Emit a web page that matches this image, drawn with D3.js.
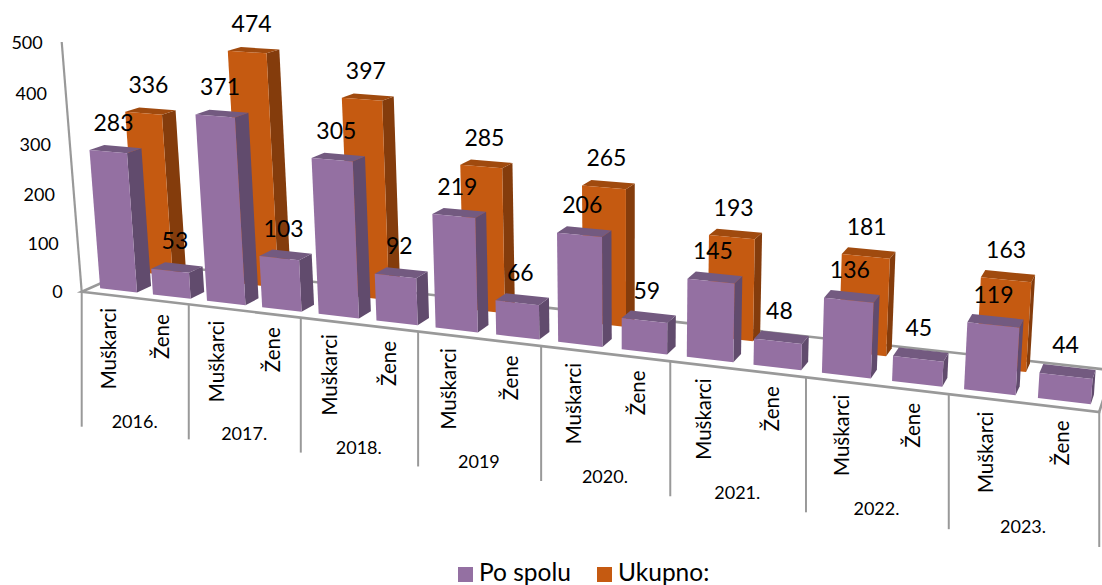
<!DOCTYPE html>
<html><head><meta charset="utf-8">
<script src="https://cdn.jsdelivr.net/npm/d3@7/dist/d3.min.js"></script>
<style>html,body{margin:0;padding:0;background:#fff}svg{display:block}text{font-family:Lato,sans-serif;fill:#000}</style>
</head><body><svg id="c" width="1102" height="585"></svg>
<script>
const years=["2016.","2017.","2018.","2019","2020.","2021.","2022.","2023."];
const groups=["Muškarci","Žene"];
const muskarci=[283,371,305,219,206,145,136,119];
const zene=[53,103,92,66,59,48,45,44];
const ukupno=[336,474,397,285,265,193,181,163];
const valueTicks=[0,100,200,300,400,500];
const legendNames=["Po spolu","Ukupno:"];
const purple={front:"#9470a2",side:"#614b6d",top:"#735a80"};
const orange={front:"#c55a11",side:"#843c0c",top:"#a04a0e"};

// projective camera of the 3-D chart: t along categories, z depth, v value
const H={c:-0.0221,e:0.055,f:-7.03e-5,a:102.9,g:72,h:-0.0443,i:5.93,j:-14,k:-0.5024,x0:81.7,y0:291.7};
function P(t,z,v){const w=1+H.c*t+H.e*z+H.f*v;
  return [(H.x0+H.a*t+H.g*z+H.h*v)/w,(H.y0+H.i*t+H.j*z+H.k*v)/w];}
const tScale=d3.scalePoint().domain(years).range([0,7]);
const groupScale=d3.scaleBand().domain(groups).range([0,1]);
const BW=0.35, SHIFT=0.006;
const zRange={front:[0.15,0.37],back:[0.72,0.94]};
const svg=d3.select("#c");
const line=d3.line();
const poly=pts=>line(pts)+"Z";
const grey="#999";

// floor
const floorPts=[P(0,0,0),P(8,0,0),P(8,1,0),P(0,1,0)];
svg.append("path").attr("d",poly(floorPts)).attr("fill","#fff").attr("stroke",grey).attr("stroke-width",2.6);
svg.append("path").attr("d",line([P(0,0,0),P(0,0,500)])).attr("stroke",grey).attr("stroke-width",2.2).attr("fill","none");

function bar(g,tc,zr,val,col){
  const t0=tc-BW/2,t1=tc+BW/2,[z0,z1]=zr;
  g.append("path").attr("d",poly([P(t1,z0,0),P(t1,z1,0),P(t1,z1,val),P(t1,z0,val)])).attr("fill",col.side);
  g.append("path").attr("d",poly([P(t0,z0,val),P(t1,z0,val),P(t1,z1,val),P(t0,z1,val)])).attr("fill",col.top);
  g.append("path").attr("d",poly([P(t0,z0,0),P(t1,z0,0),P(t1,z0,val),P(t0,z0,val)])).attr("fill",col.front);
}
const tCentre=(y,g)=>tScale(y)+groupScale(g)+groupScale.bandwidth()/2;
const gBack=svg.append("g"), gFront=svg.append("g");
years.forEach((y,i)=>bar(gBack,tCentre(y,"Muškarci")+SHIFT,zRange.back,ukupno[i],orange));
years.forEach((y,i)=>{
  bar(gFront,tCentre(y,"Muškarci")+SHIFT,zRange.front,muskarci[i],purple);
  bar(gFront,tCentre(y,"Žene")+SHIFT,zRange.front,zene[i],purple);
});

// ticks under the floor
const TICK=135;
d3.range(0,9).forEach(t=>{const p=P(t,0,0);
  svg.append("line").attr("x1",p[0]).attr("x2",p[0]).attr("y1",p[1]).attr("y2",p[1]+TICK).attr("stroke",grey).attr("stroke-width",2);
});

// value labels on the wall
valueTicks.forEach(v=>{const p=P(0,0,v);
  svg.append("text").attr("x",p[0]-19).attr("y",p[1]+2).attr("text-anchor","end").attr("dominant-baseline","middle").attr("font-size",18).text(v);
});

// category labels
years.forEach((y,i)=>{
  groups.forEach(g=>{const p=P(tCentre(y,g),0,0);
    svg.append("text").attr("transform",`translate(${p[0]+2.5},${p[1]+13}) rotate(-90)`).attr("text-anchor","end").attr("dominant-baseline","middle").attr("font-size",20.5).text(g);
  });
  const p=P(tScale(y)+0.5,0,0);
  svg.append("text").attr("x",p[0]).attr("y",p[1]+125).attr("text-anchor","middle").attr("dominant-baseline","middle").attr("font-size",18).text(y);
});

// data labels
function dlabel(tc,zr,val){const p=P(tc+SHIFT,(zr[0]+zr[1])/2,val);
  svg.append("text").attr("x",p[0]-2).attr("y",p[1]-24).attr("text-anchor","middle").attr("dominant-baseline","middle").attr("font-size",23).text(val);}
years.forEach((y,i)=>dlabel(tCentre(y,"Muškarci"),zRange.back,ukupno[i]));
years.forEach((y,i)=>{dlabel(tCentre(y,"Muškarci"),zRange.front,muskarci[i]);dlabel(tCentre(y,"Žene"),zRange.front,zene[i]);});

// legend
const lx=d3.scaleOrdinal().domain(legendNames).range([458,597]);
legendNames.forEach((n,i)=>{
  svg.append("rect").attr("x",lx(n)).attr("y",567).attr("width",15).attr("height",15).attr("fill",i?orange.front:purple.front);
  svg.append("text").attr("x",lx(n)+21).attr("y",575).attr("dominant-baseline","middle").attr("font-size",24.5).text(n);
});
</script></body></html>
